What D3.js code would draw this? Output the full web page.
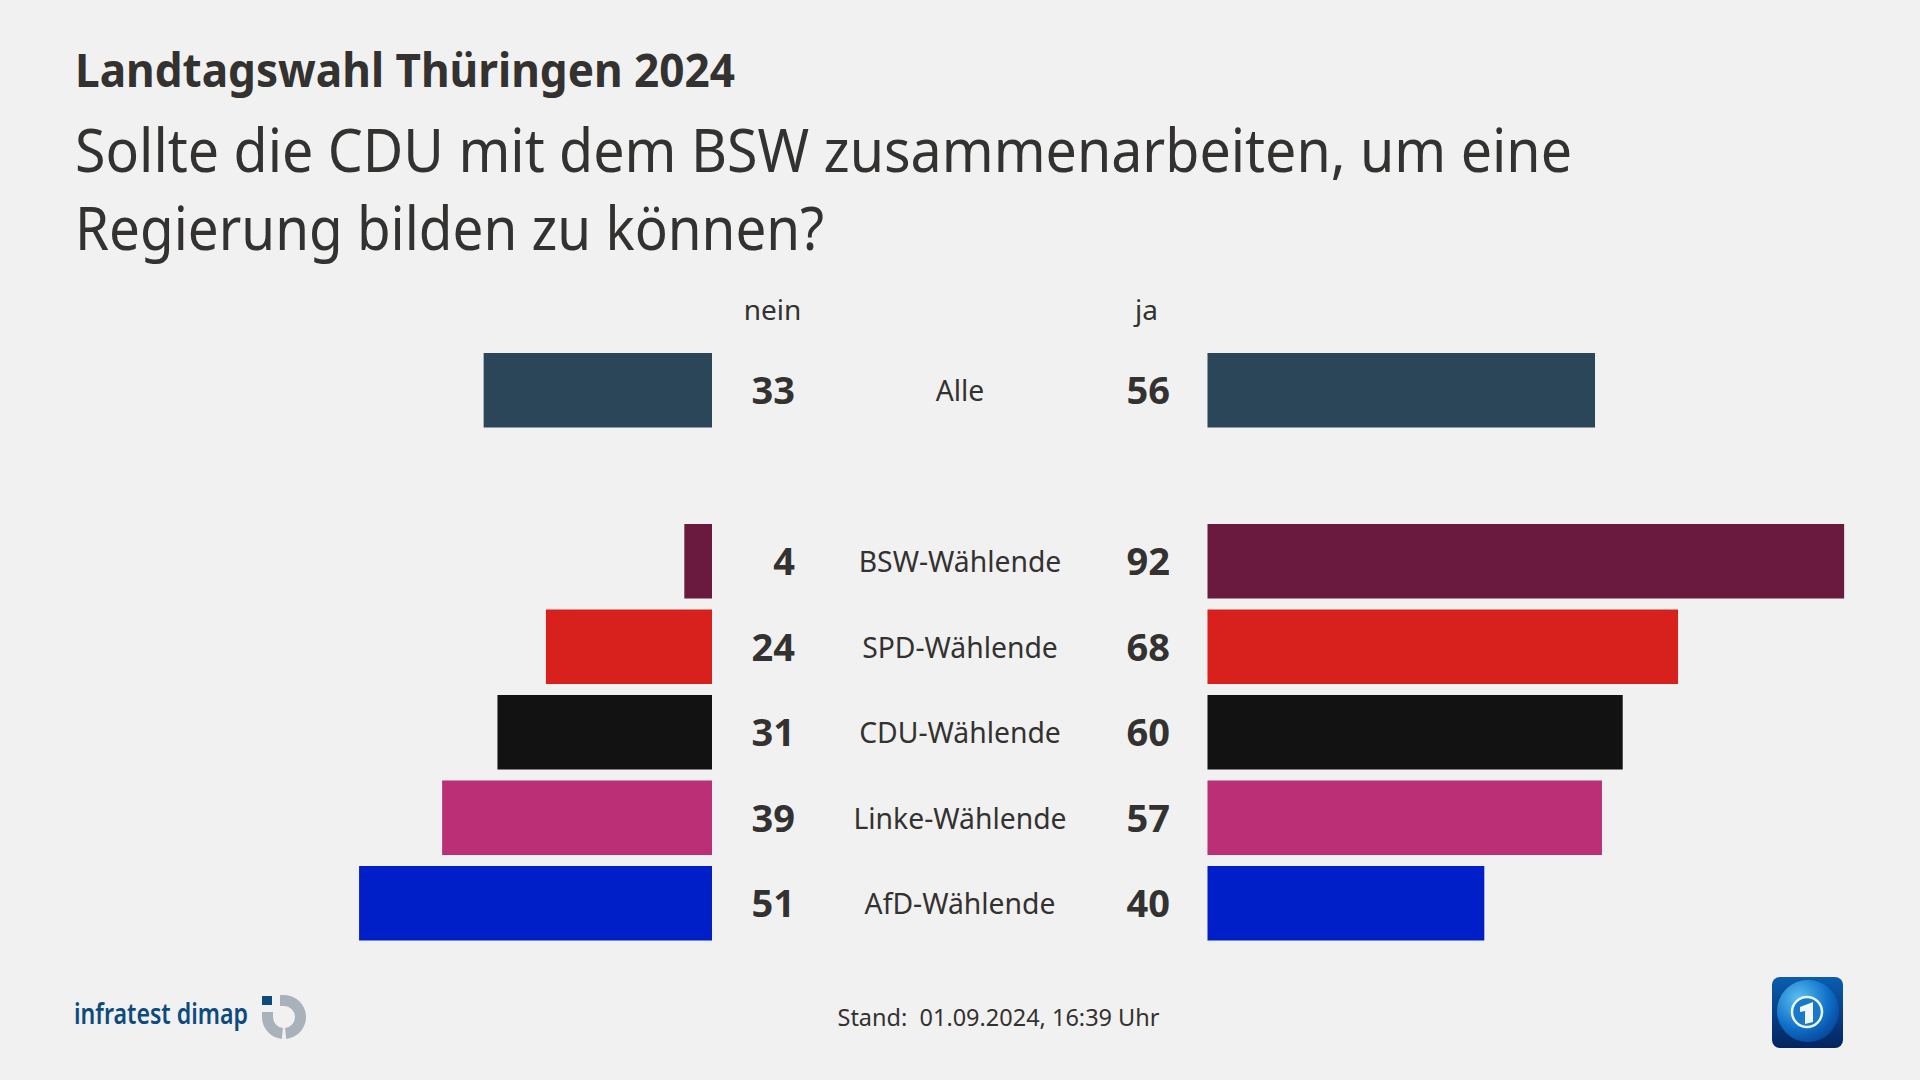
<!DOCTYPE html>
<html lang="de"><head><meta charset="utf-8"><title>Landtagswahl Thüringen 2024</title>
<script src="https://cdn.jsdelivr.net/npm/d3@7"></script>
<style>html,body{margin:0;padding:0;background:#f1f1f1}svg{display:block}text{font-family:"Noto Sans",sans-serif;fill:#333230;white-space:pre}</style>
</head><body><svg id="c" width="1920" height="1080"></svg>
<script>
const categories=["Alle","BSW-Wählende","SPD-Wählende","CDU-Wählende","Linke-Wählende","AfD-Wählende"];
const nein=[33,4,24,31,39,51];
const ja=[56,92,68,60,57,40];
const colors=["#2b4658","#6a193f","#d8201c","#121212","#ba2f76","#001fc8"];
const kicker="Landtagswahl Thüringen 2024";
const titleLines=["Sollte die CDU mit dem BSW zusammenarbeiten, um eine","Regierung bilden zu können?"];
const stand="Stand:  01.09.2024, 16:39 Uhr";

const svg=d3.select("#c");
const fit=(sel,w)=>sel.attr("textLength",w).attr("lengthAdjust","spacingAndGlyphs");
fit(svg.append("text").attr("x",75).attr("y",87).attr("font-size",47).attr("font-weight",700).text(kicker),660);
const titleW=[1497,749];
svg.selectAll(".t").data(titleLines).join("text").attr("class","t").attr("x",75)
 .attr("y",(d,i)=>172+i*77.5).attr("font-size",60).text(d=>d).each(function(d,i){fit(d3.select(this),titleW[i]);});

const len=d3.scaleLinear().domain([0,100]).range([0,692]);
const leftEdge=712,rightEdge=1207.5;
const y=d3.scaleLinear().domain([1,5]).range([524,866]);
const rowY=i=>i===0?353:y(i);
const barH=74.5;
const g=svg.selectAll(".row").data(categories).join("g").attr("class","row");
g.append("rect").attr("x",(d,i)=>leftEdge-len(nein[i])).attr("y",(d,i)=>rowY(i)).attr("width",(d,i)=>len(nein[i])).attr("height",barH).attr("fill",(d,i)=>colors[i]);
g.append("rect").attr("x",rightEdge).attr("y",(d,i)=>rowY(i)).attr("width",(d,i)=>len(ja[i])).attr("height",barH).attr("fill",(d,i)=>colors[i]);
g.append("text").attr("x",795).attr("y",(d,i)=>rowY(i)+51).attr("text-anchor","end").attr("font-size",38).attr("font-weight",700).text((d,i)=>nein[i]);
g.append("text").attr("x",1170).attr("y",(d,i)=>rowY(i)+51).attr("text-anchor","end").attr("font-size",38).attr("font-weight",700).text((d,i)=>ja[i]);
g.append("text").attr("x",960).attr("y",(d,i)=>rowY(i)+48).attr("text-anchor","middle").attr("font-size",28.3).text(d=>d);
svg.append("text").attr("x",772.5).attr("y",319.5).attr("text-anchor","middle").attr("font-size",28).text("nein");
svg.append("text").attr("x",1146.5).attr("y",319.5).attr("text-anchor","middle").attr("font-size",28).text("ja");
svg.append("text").attr("x",837.5).attr("y",1026).attr("font-size",23.5).text(stand).call(fit,322);

// infratest dimap logo
svg.append("text").attr("x",74).attr("y",1023.5).attr("font-size",29).attr("font-weight",600).style("fill","#0d4a7e").text("infratest dimap").call(fit,174);
const arc=d3.arc();
const lg=svg.append("g").attr("transform","translate(284,1017)");
lg.append("path").attr("d",arc({innerRadius:11,outerRadius:22,startAngle:0.02,endAngle:Math.PI-0.1})).attr("fill","#a9b2ba");
lg.append("path").attr("d",arc({innerRadius:11,outerRadius:22,startAngle:Math.PI+0.1,endAngle:Math.PI*1.5})).attr("fill","#a9b2ba");
lg.append("rect").attr("x",-22).attr("y",-21).attr("width",10).attr("height",9).attr("fill","#0d4a7e");
lg.append("rect").attr("x",-22).attr("y",-5).attr("width",11).attr("height",5).attr("fill","#a9b2ba");
lg.append("rect").attr("x",-4).attr("y",-22).attr("width",6).attr("height",11).attr("fill","#a9b2ba");

// tagesschau icon
const defs=svg.append("defs");
const bg=defs.append("linearGradient").attr("id","bg").attr("x1",0).attr("y1",0).attr("x2",0).attr("y2",1);
bg.append("stop").attr("offset",0).attr("stop-color","#0a5db0");bg.append("stop").attr("offset",1).attr("stop-color","#04245f");
const gl=defs.append("radialGradient").attr("id","gl").attr("cx",.35).attr("cy",.3).attr("r",.8);
gl.append("stop").attr("offset",0).attr("stop-color","#5cc0f2");gl.append("stop").attr("offset",.6).attr("stop-color","#0f70c8");gl.append("stop").attr("offset",1).attr("stop-color","#063f94");
const ic=svg.append("g");
ic.append("rect").attr("x",1772).attr("y",977).attr("width",71).attr("height",71).attr("rx",8).attr("fill","url(#bg)");
ic.append("circle").attr("cx",1808).attr("cy",1011).attr("r",31).attr("fill","url(#gl)");
ic.append("circle").attr("cx",1807).attr("cy",1012).attr("r",15).attr("fill","#1a78c8").attr("stroke","#e8f3fb").attr("stroke-width",2.5);
ic.append("path").attr("d",d3.line()([[1800,1007],[1813,1002],[1813,1022],[1805,1024],[1805,1011],[1800,1012]])+"Z").attr("fill","#eef6fc");
</script></body></html>
